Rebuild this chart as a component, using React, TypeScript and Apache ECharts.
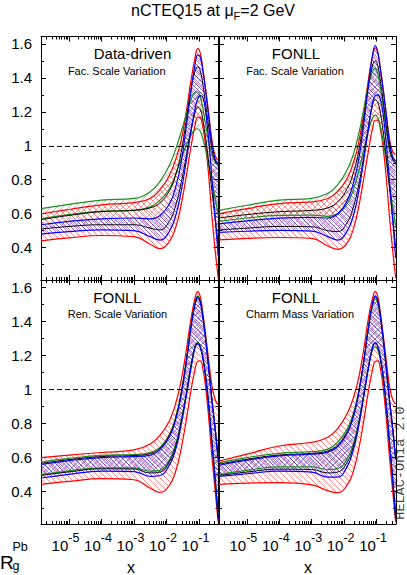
import React, { useEffect, useRef } from "react";
import * as echarts from "echarts";

// log10(x) sample points shared by every curve
const LOG_X = [-5.86, -5, -4, -3, -2.5, -2.2, -1.9, -1.7, -1.55, -1.4, -1.25, -1.12, -1.04, -0.96, -0.88, -0.8, -0.7, -0.6, -0.5, -0.41];

const X_MIN = -5.86;
const X_MAX = -0.4;
const Y_MIN = 0.21;
const Y_MAX = 1.643;
const X_MAJOR = [-5, -4, -3, -2, -1];
const Y_MAJOR = [0.4, 0.6, 0.8, 1.0, 1.2, 1.4, 1.6];
const Y_MINOR = [0.3, 0.5, 0.7, 0.9, 1.1, 1.3, 1.5];

const PANEL_TITLES = ["Data-driven", "FONLL", "FONLL", "FONLL"];
const PANEL_SUBTITLES = ["Fac. Scale Variation", "Fac. Scale Variation", "Ren. Scale Variation", "Charm Mass Variation"];

// Top-left: Data-driven, factorisation scale
const TL_RU = [0.600, 0.625, 0.652, 0.665, 0.690, 0.740, 0.830, 0.930, 1.030, 1.190, 1.380, 1.520, 1.572, 1.545, 1.450, 1.340, 1.190, 1.030, 0.940, 0.915];
const TL_RL = [0.440, 0.458, 0.472, 0.465, 0.420, 0.395, 0.440, 0.530, 0.650, 0.810, 0.990, 1.120, 1.168, 1.165, 1.110, 1.010, 0.820, 0.580, 0.380, 0.220];
const TL_GU = [0.630, 0.655, 0.680, 0.690, 0.730, 0.790, 0.890, 0.990, 1.080, 1.180, 1.270, 1.315, 1.318, 1.290, 1.220, 1.130, 1.020, 0.950, 0.905, 0.885];
const TL_GL = [0.570, 0.595, 0.615, 0.620, 0.640, 0.680, 0.750, 0.840, 0.920, 1.000, 1.060, 1.095, 1.100, 1.085, 1.040, 0.980, 0.890, 0.790, 0.690, 0.590];
const TL_KU = [0.565, 0.590, 0.612, 0.620, 0.635, 0.665, 0.740, 0.840, 0.960, 1.140, 1.330, 1.440, 1.465, 1.440, 1.360, 1.250, 1.110, 0.980, 0.910, 0.890];
const TL_KL = [0.510, 0.525, 0.535, 0.535, 0.515, 0.505, 0.560, 0.660, 0.780, 0.930, 1.090, 1.195, 1.228, 1.215, 1.150, 1.050, 0.900, 0.730, 0.570, 0.420];
const TL_BU = [0.535, 0.555, 0.570, 0.575, 0.570, 0.590, 0.660, 0.770, 0.900, 1.100, 1.320, 1.480, 1.535, 1.520, 1.440, 1.330, 1.170, 1.010, 0.920, 0.895];
const TL_BL = [0.480, 0.495, 0.505, 0.500, 0.465, 0.445, 0.500, 0.600, 0.730, 0.900, 1.080, 1.220, 1.275, 1.295, 1.285, 1.210, 1.030, 0.800, 0.570, 0.350];

// Top-right: FONLL, factorisation scale
const TR_RU = [0.600, 0.630, 0.660, 0.670, 0.690, 0.730, 0.810, 0.910, 1.020, 1.190, 1.390, 1.530, 1.575, 1.545, 1.450, 1.340, 1.190, 1.040, 0.965, 0.950];
const TR_RL = [0.446, 0.455, 0.460, 0.455, 0.410, 0.390, 0.430, 0.520, 0.640, 0.800, 0.970, 1.105, 1.150, 1.148, 1.095, 0.995, 0.810, 0.580, 0.380, 0.220];
const TR_GU = [0.620, 0.650, 0.680, 0.690, 0.720, 0.770, 0.860, 0.960, 1.070, 1.210, 1.360, 1.440, 1.455, 1.420, 1.340, 1.240, 1.100, 0.975, 0.920, 0.900];
const TR_GL = [0.555, 0.575, 0.590, 0.592, 0.585, 0.600, 0.660, 0.750, 0.850, 0.970, 1.090, 1.165, 1.180, 1.165, 1.110, 1.030, 0.910, 0.770, 0.640, 0.520];
const TR_KU = [0.575, 0.595, 0.612, 0.620, 0.635, 0.670, 0.750, 0.850, 0.970, 1.150, 1.350, 1.475, 1.500, 1.470, 1.380, 1.270, 1.120, 0.990, 0.920, 0.900];
const TR_KL = [0.505, 0.515, 0.525, 0.523, 0.500, 0.495, 0.550, 0.650, 0.770, 0.930, 1.110, 1.245, 1.270, 1.255, 1.190, 1.090, 0.930, 0.750, 0.570, 0.400];
const TR_BU = [0.540, 0.558, 0.574, 0.578, 0.575, 0.600, 0.680, 0.790, 0.920, 1.120, 1.360, 1.540, 1.590, 1.550, 1.450, 1.340, 1.180, 1.020, 0.935, 0.910];
const TR_BL = [0.490, 0.497, 0.502, 0.498, 0.465, 0.445, 0.500, 0.600, 0.730, 0.910, 1.100, 1.255, 1.295, 1.300, 1.270, 1.190, 1.010, 0.790, 0.560, 0.340];

// Bottom-left: FONLL, renormalisation scale
const BL_RU = [0.600, 0.615, 0.630, 0.645, 0.680, 0.730, 0.820, 0.930, 1.050, 1.220, 1.410, 1.540, 1.575, 1.545, 1.450, 1.330, 1.170, 1.020, 0.940, 0.910];
const BL_RL = [0.443, 0.460, 0.476, 0.470, 0.420, 0.395, 0.440, 0.530, 0.650, 0.810, 0.990, 1.120, 1.165, 1.168, 1.120, 1.020, 0.830, 0.600, 0.400, 0.220];
const BL_GU = [0.574, 0.595, 0.613, 0.618, 0.630, 0.660, 0.740, 0.850, 0.980, 1.160, 1.370, 1.510, 1.550, 1.520, 1.430, 1.310, 1.130, 0.940, 0.770, 0.600];
const BL_GL = [0.500, 0.522, 0.540, 0.540, 0.520, 0.525, 0.590, 0.690, 0.815, 0.970, 1.140, 1.255, 1.276, 1.255, 1.190, 1.090, 0.910, 0.690, 0.470, 0.250];
const BL_KU = [0.566, 0.588, 0.606, 0.612, 0.624, 0.655, 0.735, 0.845, 0.975, 1.155, 1.365, 1.505, 1.545, 1.515, 1.425, 1.305, 1.125, 0.935, 0.765, 0.590];
const BL_KL = [0.495, 0.516, 0.534, 0.533, 0.510, 0.515, 0.580, 0.680, 0.805, 0.960, 1.130, 1.250, 1.272, 1.250, 1.185, 1.085, 0.905, 0.685, 0.465, 0.245];
const BL_BU = [0.560, 0.582, 0.600, 0.606, 0.615, 0.645, 0.725, 0.835, 0.965, 1.145, 1.360, 1.500, 1.540, 1.510, 1.420, 1.300, 1.120, 0.930, 0.760, 0.580];
const BL_BL = [0.480, 0.502, 0.520, 0.518, 0.490, 0.495, 0.560, 0.660, 0.790, 0.950, 1.120, 1.245, 1.268, 1.245, 1.180, 1.080, 0.900, 0.680, 0.460, 0.240];

// Bottom-right: FONLL, charm mass
const BR_RU = [0.580, 0.620, 0.668, 0.690, 0.720, 0.770, 0.860, 0.960, 1.070, 1.230, 1.420, 1.540, 1.575, 1.545, 1.450, 1.330, 1.170, 1.020, 0.940, 0.915];
const BR_RL = [0.443, 0.450, 0.453, 0.440, 0.405, 0.394, 0.440, 0.530, 0.650, 0.810, 0.990, 1.120, 1.165, 1.168, 1.120, 1.020, 0.830, 0.600, 0.400, 0.220];
const BR_GU = [0.570, 0.600, 0.625, 0.635, 0.650, 0.690, 0.770, 0.870, 0.990, 1.160, 1.360, 1.495, 1.530, 1.500, 1.415, 1.300, 1.120, 0.935, 0.765, 0.590];
const BR_GL = [0.500, 0.525, 0.545, 0.545, 0.530, 0.535, 0.595, 0.690, 0.810, 0.965, 1.130, 1.235, 1.250, 1.230, 1.170, 1.075, 0.900, 0.690, 0.470, 0.250];
const BR_KU = [0.562, 0.590, 0.615, 0.625, 0.640, 0.675, 0.755, 0.860, 0.985, 1.160, 1.365, 1.505, 1.545, 1.515, 1.425, 1.305, 1.125, 0.935, 0.765, 0.590];
const BR_KL = [0.495, 0.515, 0.532, 0.530, 0.510, 0.515, 0.575, 0.675, 0.800, 0.960, 1.130, 1.250, 1.272, 1.250, 1.185, 1.085, 0.905, 0.685, 0.465, 0.245];
const BR_BU = [0.555, 0.585, 0.610, 0.620, 0.632, 0.665, 0.745, 0.850, 0.978, 1.155, 1.365, 1.510, 1.550, 1.520, 1.430, 1.310, 1.130, 0.940, 0.770, 0.590];
const BR_BL = [0.490, 0.505, 0.520, 0.515, 0.485, 0.485, 0.550, 0.655, 0.785, 0.950, 1.125, 1.250, 1.276, 1.252, 1.185, 1.085, 0.905, 0.685, 0.465, 0.240];

const PANELS = [
  { red: [TL_RL, TL_RU], green: [TL_GL, TL_GU], black: [TL_KL, TL_KU], blue: [TL_BL, TL_BU] },
  { red: [TR_RL, TR_RU], green: [TR_GL, TR_GU], black: [TR_KL, TR_KU], blue: [TR_BL, TR_BU] },
  { red: [BL_RL, BL_RU], green: [BL_GL, BL_GU], black: [BL_KL, BL_KU], blue: [BL_BL, BL_BU] },
  { red: [BR_RL, BR_RU], green: [BR_GL, BR_GU], black: [BR_KL, BR_KU], blue: [BR_BL, BR_BU] },
];

const GRIDS = [
  { left: 41, top: 36.5, width: 177.5, height: 243.5 },
  { left: 219, top: 36.5, width: 177, height: 243.5 },
  { left: 41, top: 280, width: 177.5, height: 244 },
  { left: 219, top: 280, width: 177, height: 244 },
];

const FONT = "'Liberation Sans', Arial, Helvetica, sans-serif";
const COLORS: Record<string, string> = { red: "#ff0000", green: "#1f8f1f", black: "#000000", blue: "#0000ff" };

function makeHatch(color: string, dir: string, s: number, lw: number, alpha: number) {
  const c = document.createElement("canvas");
  c.width = s;
  c.height = s;
  const ctx = c.getContext("2d")!;
  ctx.strokeStyle = color;
  ctx.lineWidth = lw;
  ctx.globalAlpha = alpha;
  const back = () => {
    for (const k of [-s, 0, s]) {
      ctx.beginPath();
      ctx.moveTo(0, k);
      ctx.lineTo(s, s + k);
      ctx.stroke();
    }
  };
  const fwd = () => {
    for (const k of [0, s, 2 * s]) {
      ctx.beginPath();
      ctx.moveTo(0, k);
      ctx.lineTo(s, k - s);
      ctx.stroke();
    }
  };
  if (dir === "\\") back();
  else if (dir === "/") fwd();
  else {
    back();
    fwd();
  }
  return { image: c, repeat: "repeat", imageWidth: s, imageHeight: s };
}

export default function App() {
  const ref = useRef<HTMLDivElement>(null);
  useEffect(() => {
    if (!ref.current) return;
    const chart = echarts.init(ref.current, null, { renderer: "svg" });

    const X_MINOR: number[] = [];
    for (let n = -6; n <= -1; n++) {
      for (let k = 2; k <= 9; k++) {
        const v = n + Math.log10(k);
        if (v > X_MIN && v < X_MAX) X_MINOR.push(v);
      }
    }

    const hatches: Record<string, any> = {
      red: makeHatch(COLORS.red, "\\", 6, 0.6, 0.75),
      green: makeHatch(COLORS.green, "/", 6, 0.6, 0.75),
      black: makeHatch(COLORS.black, "x", 7, 0.5, 0.45),
      blue: makeHatch(COLORS.blue, "\\", 4, 0.6, 0.7),
    };

    const xAxis: any[] = [];
    const yAxis: any[] = [];
    const axisLine = { show: true, onZero: false, lineStyle: { color: "#000", width: 1 } };
    GRIDS.forEach((_, i) => {
      const common = { type: "value", gridIndex: i, min: X_MIN, max: X_MAX, splitLine: { show: false } };
      const showLabel = i >= 2;
      xAxis.push({
        ...common,
        position: "bottom",
        axisLine,
        axisTick: { show: true, inside: true, length: 5, customValues: X_MAJOR, lineStyle: { color: "#000" } },
        axisLabel: {
          show: showLabel,
          customValues: X_MAJOR,
          margin: 7,
          hideOverlap: false,
          showMinLabel: true,
          showMaxLabel: true,
          padding: [0, 7, 0, 0],
          formatter: (v: number) => `{b|10}{s|${Math.round(v)}}`,
          rich: {
            b: { fontSize: 15, lineHeight: 28, fontFamily: FONT, color: "#000" },
            s: { fontSize: 12.5, lineHeight: 13, verticalAlign: "top", fontFamily: FONT, color: "#000" },
          },
        },
      });
      xAxis.push({
        ...common,
        position: "bottom",
        axisLine: { show: false },
        axisTick: { show: true, inside: true, length: 3, customValues: X_MINOR, lineStyle: { color: "#000" } },
        axisLabel: { show: false },
      });
      xAxis.push({
        ...common,
        position: "top",
        axisLine,
        axisTick: { show: true, inside: true, length: 5, customValues: X_MAJOR, lineStyle: { color: "#000" } },
        axisLabel: { show: false },
      });
      xAxis.push({
        ...common,
        position: "top",
        axisLine: { show: false },
        axisTick: { show: true, inside: true, length: 3, customValues: X_MINOR, lineStyle: { color: "#000" } },
        axisLabel: { show: false },
      });

      const ycommon = { type: "value", gridIndex: i, min: Y_MIN, max: Y_MAX, splitLine: { show: false } };
      const showY = i % 2 === 0;
      yAxis.push({
        ...ycommon,
        position: "left",
        axisLine,
        axisTick: { show: true, inside: true, length: 5, customValues: Y_MAJOR, lineStyle: { color: "#000" } },
        axisLabel: {
          show: showY,
          customValues: Y_MAJOR,
          margin: 9,
          fontSize: 15,
          fontFamily: FONT,
          color: "#000",
          formatter: (v: number) => (Math.abs(v - 1) < 1e-9 ? "1" : v.toFixed(1)),
        },
      });
      yAxis.push({
        ...ycommon,
        position: "left",
        axisLine: { show: false },
        axisTick: { show: true, inside: true, length: 3, customValues: Y_MINOR, lineStyle: { color: "#000" } },
        axisLabel: { show: false },
      });
      yAxis.push({
        ...ycommon,
        position: "right",
        axisLine,
        axisTick: { show: true, inside: true, length: 5, customValues: Y_MAJOR, lineStyle: { color: "#000" } },
        axisLabel: { show: false },
      });
      yAxis.push({
        ...ycommon,
        position: "right",
        axisLine: { show: false },
        axisTick: { show: true, inside: true, length: 3, customValues: Y_MINOR, lineStyle: { color: "#000" } },
        axisLabel: { show: false },
      });
    });

    const series: any[] = [];
    PANELS.forEach((panel: any, p) => {
      ["red", "green", "black", "blue"].forEach((band, b) => {
        const [lower, upper] = panel[band];
        const color = COLORS[band];
        const width = band === "black" ? 1 : 1.2;
        const base = {
          type: "line",
          xAxisIndex: p * 4,
          yAxisIndex: p * 4,
          stack: `p${p}-${band}`,
          // y value in column 0 so that stacking acts on y, x in column 1
          encode: { x: 1, y: 0 },
          smooth: 0.45,
          symbol: "none",
          silent: true,
          lineStyle: { color, width },
        };
        const s1: any = {
          ...base,
          name: `${band}-lower-${p}`,
          data: LOG_X.map((x, i) => [lower[i], x]),
        };
        if (b === 0) {
          s1.markLine = {
            silent: true,
            symbol: ["none", "none"],
            label: { show: false },
            lineStyle: { color: "#000", type: [5, 3], width: 1 },
            data: [{ yAxis: 1 }],
          };
        }
        series.push(s1);
        series.push({
          ...base,
          name: `${band}-upper-${p}`,
          data: LOG_X.map((x, i) => [upper[i] - lower[i], x]),
          areaStyle: { color: hatches[band], opacity: 1 },
        });
      });
    });

    const txt = (x: number, y: number, text: string, fontSize: number, extra: any = {}) => ({
      type: "text",
      x,
      y,
      silent: true,
      style: { text, fontSize, fontFamily: FONT, fill: "#000", align: "center", verticalAlign: "middle", ...extra },
    });

    const graphic: any[] = [
      txt(213, 10, "{a|nCTEQ15 at μ}{b|F}{a|=2 GeV}", 16, {
        rich: {
          a: { fontSize: 16, lineHeight: 22, fontFamily: FONT, fill: "#000" },
          b: { fontSize: 11, lineHeight: 11, verticalAlign: "bottom", fontFamily: FONT, fill: "#000" },
        },
      }),
      txt(132.5, 53, PANEL_TITLES[0], 15),
      txt(116.7, 70.7, PANEL_SUBTITLES[0], 11),
      txt(296, 53, PANEL_TITLES[1], 15),
      txt(295, 70.7, PANEL_SUBTITLES[1], 11),
      txt(117.5, 297, PANEL_TITLES[2], 15),
      txt(117.5, 314, PANEL_SUBTITLES[2], 11),
      txt(296, 297, PANEL_TITLES[3], 15),
      txt(300, 314.3, PANEL_SUBTITLES[3], 11),
      txt(131, 567, "x", 16, { lineHeight: 14 }),
      txt(308, 567, "x", 16, { lineHeight: 14 }),
      txt(0, 562.5, "R", 19, { align: "left" }),
      txt(12.5, 547, "Pb", 12.5, { align: "left" }),
      txt(12.5, 566, "g", 12.5, { align: "left" }),
      {
        type: "text",
        x: 400.5,
        y: 463,
        rotation: Math.PI / 2,
        silent: true,
        style: {
          text: "HELAC-Onia 2.0",
          fontSize: 13.5,
          fontFamily: "'Liberation Mono', 'DejaVu Sans Mono', monospace",
          fill: "#444",
          align: "center",
          verticalAlign: "middle",
        },
      },
    ];

    chart.setOption({
      animation: false,
      backgroundColor: "#fff",
      grid: GRIDS.map((g) => ({ ...g, containLabel: false })),
      xAxis,
      yAxis,
      series,
      graphic,
    });
    return () => chart.dispose();
  }, []);
  return (
    <div
      ref={ref}
      style={{ position: "absolute", left: 0, top: 0, width: 407, height: 575, background: "#fff" }}
    />
  );
}
